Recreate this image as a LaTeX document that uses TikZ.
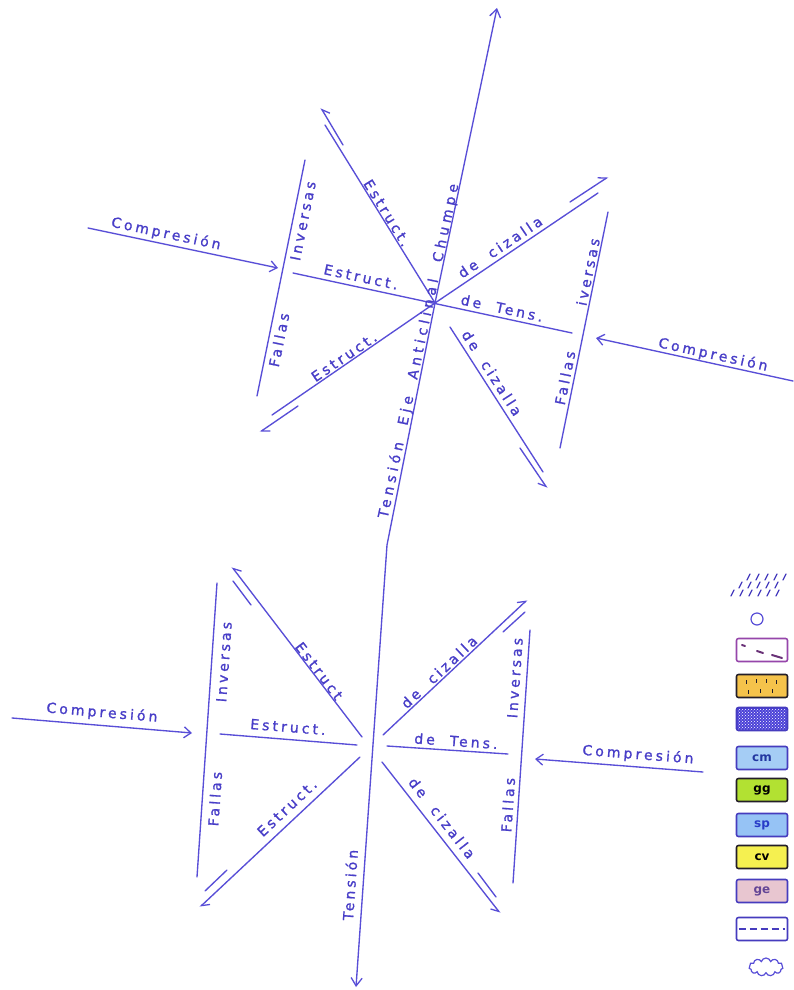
\documentclass[tikz,border=0pt]{standalone}
\usepackage{fontspec}
\newfontfamily\hand[LetterSpace=22,WordSpace=2.0,FakeBold=1.2]{DejaVu Sans}
\newfontfamily\handwide[LetterSpace=30,WordSpace=2.0,FakeBold=1.2]{DejaVu Sans}
\newfontfamily\legfont{DejaVu Sans}
\usetikzlibrary{arrows.meta,patterns,shapes.symbols}
\definecolor{lb}{RGB}{88,78,215}
\definecolor{tb}{RGB}{72,62,200}
\definecolor{legpurple}{RGB}{150,70,170}
\definecolor{legdark}{RGB}{35,30,40}
\definecolor{legblue}{RGB}{70,60,190}
\definecolor{fillorange}{RGB}{245,195,75}
\definecolor{fillblue}{RGB}{75,65,215}
\definecolor{filllb}{RGB}{165,205,245}
\definecolor{fillgreen}{RGB}{178,225,50}
\definecolor{filllb2}{RGB}{150,195,245}
\definecolor{fillyellow}{RGB}{245,240,80}
\definecolor{fillpink}{RGB}{232,198,208}
\begin{document}
\begin{tikzpicture}[x=1pt,y=-1pt,
  ln/.style={draw=lb, line width=1.35pt, line cap=round},
  arr/.style={ln, -{Straight Barb[length=7pt,width=11pt,line width=1.3pt]}},
  harpL/.style={ln, -{Straight Barb[length=7pt,width=10pt,line width=1.3pt,left]}},
  harpR/.style={ln, -{Straight Barb[length=7pt,width=10pt,line width=1.3pt,right]}},
  lab/.style={text=tb, font=\hand\fontsize{14}{14}\selectfont, inner sep=0pt},
  labw/.style={text=tb, font=\handwide\fontsize{14}{14}\selectfont, inner sep=0pt},
  legbox/.style={rounded corners=2pt, minimum width=51pt, minimum height=23pt, inner sep=0pt, line width=1.6pt, font=\legfont\bfseries\fontsize{12}{12}\selectfont}
]
\fill[white] (0,0) rectangle (793,990);
\useasboundingbox (0,0) rectangle (793,990);

% ---------------- tension axis ----------------
\coordinate (tTop) at (497,8);
\coordinate (tC) at (435,303);
\coordinate (tBend) at (387,545);
\coordinate (tBot) at (356,987);
\draw[ln, {Straight Barb[length=8pt,width=11pt,line width=1.3pt]}-{Straight Barb[length=8pt,width=11pt,line width=1.3pt]}] (tTop) -- (tC) -- (tBend) -- (tBot);

% ---------------- top diagram ----------------
\coordinate (fl1) at (305,160); \coordinate (fl2) at (257,396);
\coordinate (fr1) at (608,212); \coordinate (fr2) at (560,448);
\draw[ln] (fl1) -- (fl2);
\draw[ln] (fr1) -- (fr2);
\coordinate (cl1) at (88,228); \coordinate (cl2) at (278,268);
\coordinate (cr1) at (793,381); \coordinate (cr2) at (596,338);
\draw[arr] (cl1) -- (cl2);
\draw[arr] (cr1) -- (cr2);
\coordinate (et1) at (293,273); \coordinate (et2) at (572,333);
\draw[ln] (et1) -- (et2);
\coordinate (nw) at (325,125);
\coordinate (ne) at (598,193);
\coordinate (sw) at (272,415);
\coordinate (se0) at (450,327); \coordinate (se) at (543,472);
\draw[ln] (tC) -- (nw);
\draw[ln] (tC) -- (ne);
\draw[ln] (tC) -- (sw);
\draw[ln] (se0) -- (se);
\coordinate (hnw1) at (343,145); \coordinate (hnw2) at (321,108);
\coordinate (hne1) at (570,202); \coordinate (hne2) at (608,177);
\coordinate (hsw1) at (298,406); \coordinate (hsw2) at (260,432);
\coordinate (hse1) at (520,448); \coordinate (hse2) at (547,488);
\draw[harpR] (hnw1) -- (hnw2);
\draw[harpL] (hne1) -- (hne2);
\draw[harpL] (hsw1) -- (hsw2);
\draw[harpR] (hse1) -- (hse2);

\node[labw, rotate=78] (t1) at (419,351) {Tensión Eje Anticlinal Chumpe};
\node[lab, rotate=78.5] (t2) at (303,221) {Inversas};
\node[lab, rotate=78.5] (t3) at (279,340) {Fallas};
\node[lab, rotate=78.5] (t4) at (588,272) {iversas};
\node[lab, rotate=78.5] (t5) at (565,378) {Fallas};
\node[lab, rotate=-11.9] (t6) at (166,234) {Compresión};
\node[lab, rotate=-12.3] (t7) at (713,355) {Compresión};
\node[lab, rotate=-12.1] (t8) at (361,277) {Estruct.};
\node[lab, rotate=-12.1] (t9) at (502,308) {de Tens.};
\node[lab, rotate=-58.3] (t10) at (387,213) {Estruct.};
\node[lab, rotate=34] (t11) at (500,247) {de cizalla};
\node[lab, rotate=34.3] (t12) at (344,357) {Estruct.};
\node[lab, rotate=-57.3] (t13) at (492,373) {de cizalla};

% ---------------- bottom diagram ----------------
\coordinate (bfl1) at (217,583); \coordinate (bfl2) at (197,877);
\coordinate (bfr1) at (530,630); \coordinate (bfr2) at (513,883);
\draw[ln] (bfl1) -- (bfl2);
\draw[ln] (bfr1) -- (bfr2);
\coordinate (bcl1) at (12,718); \coordinate (bcl2) at (192,733);
\coordinate (bcr1) at (703,772); \coordinate (bcr2) at (535,759);
\draw[arr] (bcl1) -- (bcl2);
\draw[arr] (bcr1) -- (bcr2);
\coordinate (be1) at (220,734); \coordinate (be2) at (357,745);
\coordinate (bt1) at (387,746); \coordinate (bt2) at (508,754);
\draw[ln] (be1) -- (be2);
\draw[ln] (bt1) -- (bt2);
\coordinate (bnw0) at (362,737); \coordinate (bnw) at (232,567);
\coordinate (bne0) at (383,735); \coordinate (bne) at (527,600);
\coordinate (bsw0) at (360,757); \coordinate (bsw) at (200,907);
\coordinate (bse0) at (382,762); \coordinate (bse) at (500,913);
\draw[harpR] (bnw0) -- (bnw);
\draw[harpL] (bne0) -- (bne);
\draw[harpL] (bsw0) -- (bsw);
\draw[harpR] (bse0) -- (bse);
\coordinate (snw1) at (233,581); \coordinate (snw2) at (251,605);
\coordinate (sne1) at (525,612); \coordinate (sne2) at (503,632);
\coordinate (ssw1) at (205,891); \coordinate (ssw2) at (227,870);
\coordinate (sse1) at (496,897); \coordinate (sse2) at (478,873);
\draw[ln] (snw1) -- (snw2);
\draw[ln] (sne1) -- (sne2);
\draw[ln] (ssw1) -- (ssw2);
\draw[ln] (sse1) -- (sse2);

\node[lab, rotate=86] (b1) at (350,885) {Tensión};
\node[lab, rotate=86] (b2) at (224,662) {Inversas};
\node[lab, rotate=86] (b3) at (215,799) {Fallas};
\node[lab, rotate=86] (b4) at (515,678) {Inversas};
\node[lab, rotate=86] (b5) at (508,805) {Fallas};
\node[lab, rotate=-4.8] (b6) at (102,713) {Compresión};
\node[lab, rotate=-4.4] (b7) at (638,755) {Compresión};
\node[lab, rotate=-4.6] (b8) at (288,727) {Estruct.};
\node[lab, rotate=-3.8] (b9) at (456,741) {de Tens.};
\node[lab, rotate=-52.6] (b10) at (319,671) {Estruct};
\node[lab, rotate=43.2] (b11) at (439,672) {de cizalla};
\node[lab, rotate=43.2] (b12) at (287,808) {Estruct.};
\node[lab, rotate=-52] (b13) at (442,818) {de cizalla};

% ---------------- legend ----------------
\foreach \x in {747,756,765,774,783} \draw[draw=legblue, line width=1.3pt, line cap=round] (\x,580) -- (\x+3,574);
\foreach \x in {739,748,757,766,775} \draw[draw=legblue, line width=1.3pt, line cap=round] (\x,588) -- (\x+3,582);
\foreach \x in {731,740,749,758,767,776} \draw[draw=legblue, line width=1.3pt, line cap=round] (\x,596) -- (\x+3,590);
\node[draw=lb, circle, line width=1.2pt, minimum size=12pt, inner sep=0pt] (lg2) at (757,619) {};
\node[legbox, draw=legpurple, fill=white] (lg3) at (762,650) {};
\draw[draw=legpurple!70!black, line width=2pt, line cap=round] (742,645) -- (745,646);
\draw[draw=legpurple!70!black, line width=2pt, line cap=round] (757,651) -- (763,653);
\draw[draw=legpurple!70!black, line width=2pt, line cap=round] (772,655) -- (782,658);
\node[legbox, draw=legdark, fill=fillorange] (lg4) at (762,686) {};
\foreach \x/\y in {746/682,756/681,766/681,776/682,748/692,760/691,772/691}
  \draw[draw=legdark, line width=1pt] (\x,\y-2) -- (\x,\y+2);
\node[legbox, draw=legblue, fill=fillblue] (lg5) at (762,719) {};
\fill[pattern=crosshatch dots, pattern color=white] (738,709) rectangle (786,729);
\node[legbox, draw=legblue, fill=filllb, text={rgb,255:red,35;green,55;blue,160}] (lg6) at (762,758) {cm};
\node[legbox, draw=legdark, fill=fillgreen, text=black] (lg7) at (762,790) {gg};
\node[legbox, draw=legblue, fill=filllb2, text={rgb,255:red,40;green,60;blue,200}] (lg8) at (762,825) {sp};
\node[legbox, draw=legdark, fill=fillyellow, text=black] (lg9) at (762,857) {cv};
\node[legbox, draw=legblue, fill=fillpink, text={rgb,255:red,100;green,70;blue,150}] (lg10) at (762,891) {ge};
\node[legbox, draw=legblue, fill=white] (lg11) at (762,929) {};
\draw[draw=legblue, line width=1.3pt, dash pattern=on 7pt off 4pt] ([xshift=3pt]lg11.west) -- ([xshift=-3pt]lg11.east);
\node[cloud, draw=lb, line width=1.2pt, cloud puffs=11, minimum width=34pt, minimum height=18pt, inner sep=0pt] (lg12) at (766,967) {};
\end{tikzpicture}
\end{document}
